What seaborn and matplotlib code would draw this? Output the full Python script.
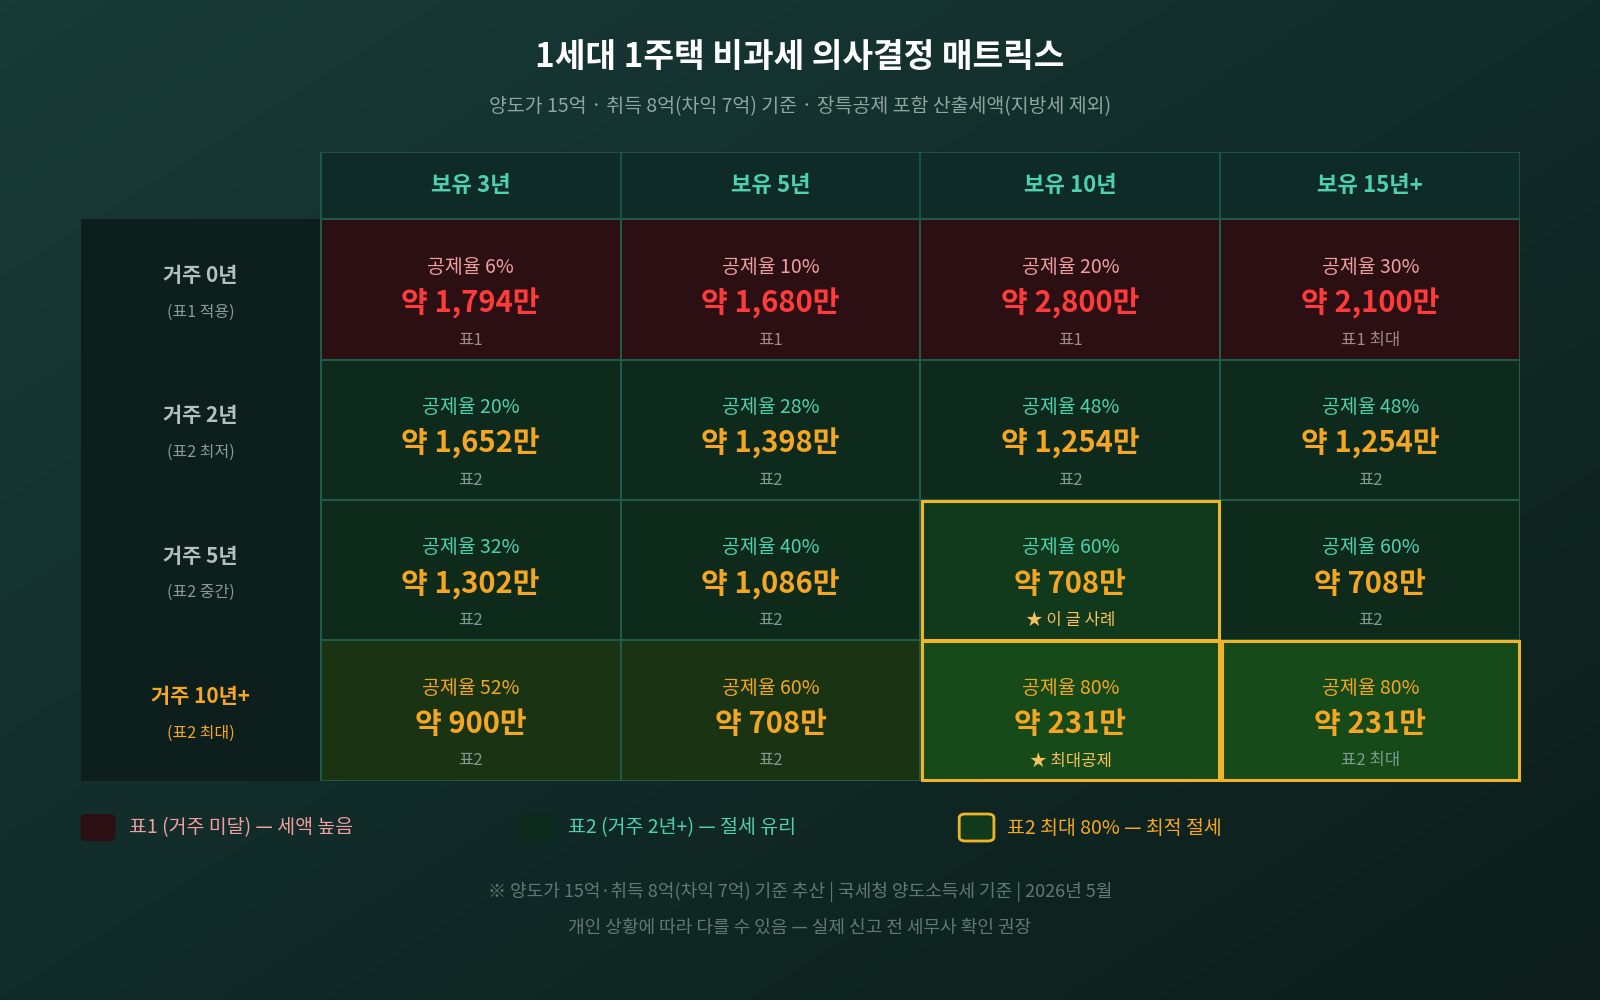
import matplotlib.pyplot as plt
import matplotlib.patches as mpatches
from matplotlib.colors import ListedColormap, LinearSegmentedColormap
import numpy as np
import seaborn as sns

sns.set_theme(style="white")
plt.rcParams["font.family"] = ["Noto Sans CJK KR", "DejaVu Sans"]

col_labels = ["보유 3년", "보유 5년", "보유 10년", "보유 15년+"]
row_labels = ["거주 0년", "거주 2년", "거주 5년", "거주 10년+"]
row_notes = ["(표1 적용)", "(표2 최저)", "(표2 중간)", "(표2 최대)"]
rates = [[6, 10, 20, 30], [20, 28, 48, 48], [32, 40, 60, 60], [52, 60, 80, 80]]
taxes = [["1,794", "1,680", "2,800", "2,100"],
         ["1,652", "1,398", "1,254", "1,254"],
         ["1,302", "1,086", "708", "708"],
         ["900", "708", "231", "231"]]
notes = [["표1", "표1", "표1", "표1 최대"],
         ["표2", "표2", "표2", "표2"],
         ["표2", "표2", "★ 이 글 사례", "표2"],
         ["표2", "표2", "★ 최대공제", "표2 최대"]]
# cell colour class: 0 red, 1 green, 2 green, 3 olive, 4 highlight, 5 max highlight
cell_class = [[0, 0, 0, 0], [1, 1, 1, 1], [2, 2, 4, 2], [3, 3, 5, 5]]
gold_cells = [(2, 2), (3, 2), (3, 3)]

cell_cmap = ListedColormap(["#2b0f12", "#0e2a1d", "#0d2a1b", "#1a3312", "#113a1c", "#164a18"])
GRID = "#1f5a4a"
GOLD = "#f0b429"
ORANGE = "#f5a623"

fig = plt.figure(figsize=(16, 10), dpi=100)
bg = fig.add_axes([0, 0, 1, 1], zorder=-10)
gx, gy = np.meshgrid(np.linspace(0, 1, 200), np.linspace(0, 1, 200))
grad = (gx + gy) / 2
bg.imshow(grad, cmap=LinearSegmentedColormap.from_list("bg", ["#183b38", "#0c1d1a"]),
          aspect="auto", extent=[0, 1, 0, 1], origin="upper")
bg.axis("off")

# axes spans label column + 4 data columns, header row + 4 data rows
ax = fig.add_axes([79 / 1568, 1 - 765 / 980, (1490 - 79) / 1568, (765 - 149) / 980])
sns.heatmap(np.array(cell_class), cmap=cell_cmap, vmin=-0.5, vmax=5.5, cbar=False,
            linewidths=1.2, linecolor=GRID, ax=ax, xticklabels=False, yticklabels=False)
ax.set_xlim(-0.8, 4)
ax.set_ylim(4, -0.48)
ax.patch.set_visible(False)

# header and label column backgrounds
ax.add_patch(mpatches.Rectangle((0, -0.48), 4, 0.48, facecolor="#0f2b28", edgecolor=GRID, lw=1.2, zorder=0))
ax.add_patch(mpatches.Rectangle((-0.8, 0), 0.8, 4, facecolor="#0c1f1d", edgecolor="none", zorder=0))
for j in range(1, 4):
    ax.plot([j, j], [-0.48, 0], color=GRID, lw=1.2)
ax.plot([0, 0], [-0.48, 4], color=GRID, lw=1.2)

for j, lab in enumerate(col_labels):
    ax.text(j + 0.5, -0.24, lab, ha="center", va="center", fontsize=16, weight="bold", color="#4fd1b0")

for i in range(4):
    red = i == 0
    olive = i == 3
    lc = ORANGE if olive else "#b4c0bd"
    nc = ORANGE if olive else "#8a9a96"
    ax.text(-0.4, i + 0.4, row_labels[i], ha="center", va="center", fontsize=15, weight="bold", color=lc)
    ax.text(-0.4, i + 0.66, row_notes[i], ha="center", va="center", fontsize=11.5, color=nc)
    for j in range(4):
        rc = "#f0a0a0" if red else (ORANGE if olive else "#4fd1b0")
        tc = "#ff3b3b" if red else ORANGE
        sc = "#a08a8a" if red else ("#f5c060" if notes[i][j].startswith("★") else "#7f9a92")
        ax.text(j + 0.5, i + 0.34, f"공제율 {rates[i][j]}%", ha="center", va="center", fontsize=14, color=rc)
        ax.text(j + 0.5, i + 0.6, f"약 {taxes[i][j]}만", ha="center", va="center", fontsize=21,
                weight="bold", color=tc)
        ax.text(j + 0.5, i + 0.86, notes[i][j], ha="center", va="center", fontsize=12, color=sc)

for i, j in gold_cells:
    ax.add_patch(mpatches.Rectangle((j + 0.005, i + 0.005), 0.99, 0.99, fill=False, edgecolor=GOLD,
                                    lw=2.2, zorder=5, clip_on=False))
for s in ax.spines.values():
    s.set_visible(False)

fig.text(0.5, 0.943, "1세대 1주택 비과세 의사결정 매트릭스", ha="center", va="center",
         fontsize=24, weight="bold", color="white")
fig.text(0.5, 0.893, "양도가 15억 · 취득 8억(차익 7억) 기준 · 장특공제 포함 산출세액(지방세 제외)",
         ha="center", va="center", fontsize=14, color="#8fa5a0")

# legend
legend_items = [("#2b0f12", "none", "표1 (거주 미달) — 세액 높음", "#f0a0a0", 0.0504),
                ("#0e2a1d", "none", "표2 (거주 2년+) — 절세 유리", "#4fd1b0", 0.3253),
                ("#113a1c", GOLD, "표2 최대 80% — 최적 절세", ORANGE, 0.5995)]
for fc, ec, label, tcol, x0 in legend_items:
    fig.patches.append(mpatches.FancyBboxPatch((x0, 0.159), 0.0217, 0.027, boxstyle="round,pad=0,rounding_size=0.004",
                                               transform=fig.transFigure, facecolor=fc, edgecolor=ec, lw=2))
    fig.text(x0 + 0.030, 0.172, label, ha="left", va="center", fontsize=14, color=tcol)

fig.text(0.5, 0.108, "※ 양도가 15억·취득 8억(차익 7억) 기준 추산 | 국세청 양도소득세 기준 | 2026년 5월",
         ha="center", va="center", fontsize=13, color="#5f7a74")
fig.text(0.5, 0.072, "개인 상황에 따라 다를 수 있음 — 실제 신고 전 세무사 확인 권장",
         ha="center", va="center", fontsize=13, color="#5f7a74")

fig.savefig("out.png", dpi=100)
